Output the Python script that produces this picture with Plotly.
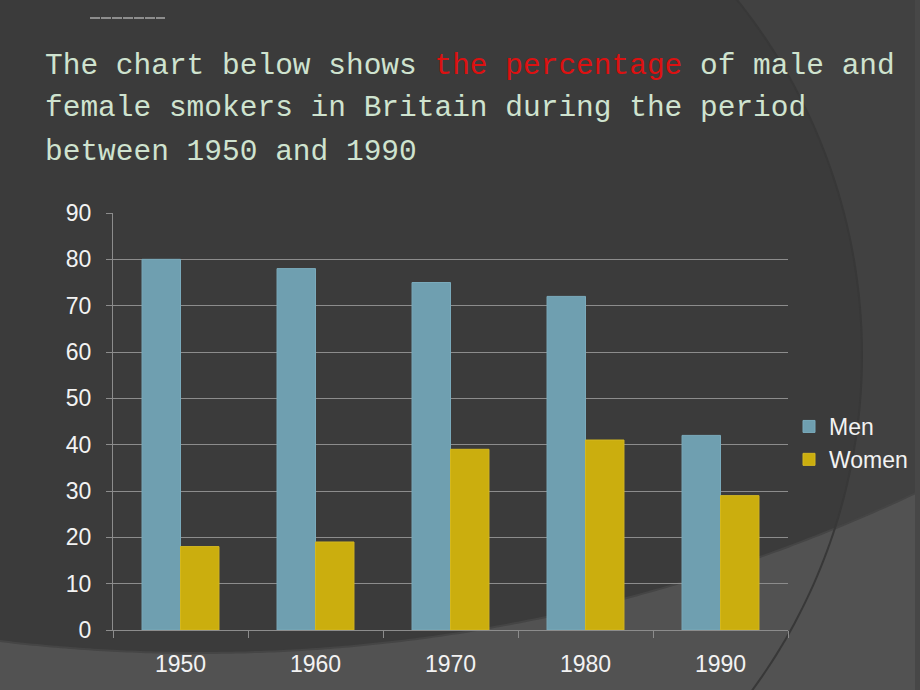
import numpy as np
import plotly.graph_objects as go

years = ["1950", "1960", "1970", "1980", "1990"]
men = [80, 78, 75, 72, 42]
women = [18, 19, 39, 41, 29]
y_ticks = [0, 10, 20, 30, 40, 50, 60, 70, 80, 90]

W, H = 920, 690
L, R, T, B = 113, 132, 213, 60
PW, PH = W - L - R, H - T - B


def px(x):
    return (x - L) / PW


def py(y):
    return 1 - (y - T) / PH


def path_from(points, close=True):
    s = "M " + " L ".join(f"{px(x):.5f},{py(y):.5f}" for x, y in points)
    return s + (" Z" if close else "")


# decorative background: right circle region
cx, cy, r = 295, 355, 567
ang = np.linspace(-np.pi / 2 - 0.3, np.pi / 2 + 0.3, 240)
arc = [(cx + r * np.cos(a), cy + r * np.sin(a)) for a in ang]
arc_sorted = sorted([(x, y) for x, y in arc if -40 <= y <= H + 40], key=lambda p: p[1])
right_region = [(W + 10, -10)] + arc_sorted + [(W + 10, H + 10)]

# bottom region outside a big circle
bx, by, br = 200, -1028, 1681
xs = np.linspace(-10, W + 10, 200)
bottom_curve = [(x, by + np.sqrt(br ** 2 - (x - bx) ** 2)) for x in xs]
bottom_region = bottom_curve + [(W + 10, H + 10), (-10, H + 10)]

fig = go.Figure()
fig.add_trace(go.Bar(name="Men", x=years, y=men,
                     marker=dict(color="#6f9fb0", line=dict(color="#7aaabb", width=1))))
fig.add_trace(go.Bar(name="Women", x=years, y=women,
                     marker=dict(color="#cbae0e", line=dict(color="#d4b820", width=1))))

shapes = [
    dict(type="path", xref="paper", yref="paper", path=path_from(right_region),
         fillcolor="#414141", line=dict(width=0), layer="below"),
    dict(type="path", xref="paper", yref="paper", path=path_from(bottom_region),
         fillcolor="#525252", line=dict(width=0), layer="below"),
    dict(type="path", xref="paper", yref="paper", path=path_from(bottom_curve, close=False),
         line=dict(color="#454545", width=2), layer="below"),
    dict(type="path", xref="paper", yref="paper", path=path_from(arc_sorted, close=False),
         line=dict(color="#383838", width=2), layer="below"),
    dict(type="rect", xref="paper", yref="paper", x0=px(915), x1=px(W + 10), y0=py(-10), y1=py(H + 10),
         fillcolor="#474747", line=dict(width=0), layer="below"),
    dict(type="line", xref="paper", yref="paper", x0=px(90), x1=px(165), y0=py(18), y1=py(18),
         line=dict(color="#e0e0e0", width=1, dash="10px,1px")),
]

title_font = dict(family="Liberation Mono, Courier New, monospace", size=29.5, color="#cfe3cf")
lines = [
    "The chart below shows <span style='color:#dd1111'>the percentage</span> of male and",
    "female smokers in Britain during the period",
    "between 1950 and 1990",
]
line_y = [66, 108, 152]
annotations = []
for t, yy in zip(lines, line_y):
    annotations.append(dict(text=t, xref="paper", yref="paper", x=px(43), y=py(yy),
                            xanchor="left", yanchor="middle", showarrow=False, font=title_font))

fig.update_layout(
    width=W, height=H,
    margin=dict(l=L, r=R, t=T, b=B, pad=0, autoexpand=False),
    paper_bgcolor="#3b3b3b",
    plot_bgcolor="rgba(0,0,0,0)",
    barmode="group", bargap=0.43, bargroupgap=0,
    font=dict(family="Liberation Sans, Arial, sans-serif", size=23, color="#f2f2f2"),
    shapes=shapes,
    annotations=annotations,
    legend=dict(x=px(789), y=py(405), xanchor="left", yanchor="top",
                font=dict(size=23, color="#f2f2f2"), bgcolor="rgba(0,0,0,0)",
                itemwidth=30, tracegroupgap=0),
    showlegend=True,
)
fig.update_xaxes(showline=True, linecolor="#8c8c8c", linewidth=1, ticks="outside", tickson="boundaries",
                 ticklen=7, tickcolor="#8c8c8c", showgrid=False, tickfont=dict(size=23, color="#f2f2f2"),
                 ticklabelstandoff=13)
fig.update_yaxes(range=[0, 90], tickvals=y_ticks, showline=True, linecolor="#8c8c8c", linewidth=1,
                 ticks="outside", ticklen=6, tickcolor="#8c8c8c", gridcolor="#8c8c8c", gridwidth=1,
                 zeroline=False, tickfont=dict(size=23, color="#f2f2f2"), ticklabelstandoff=10)

fig.write_html("out.html", config={"displayModeBar": False},
               post_script="document.body.style.margin='0';document.body.style.overflow='hidden';")
